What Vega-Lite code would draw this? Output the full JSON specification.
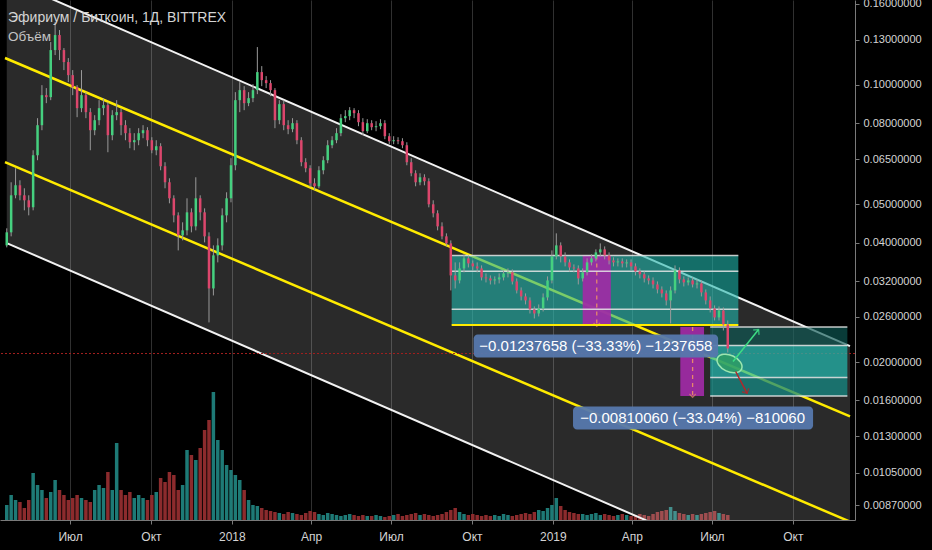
{
"$schema": "https://vega.github.io/schema/vega-lite/v6.json",
"width": 855, "height": 520,
"autosize": {"type": "none"},
"padding": {"left": 0, "top": 0, "right": 77, "bottom": 30},
"background": "#000000",
"config": {"view": {"stroke": null, "fill": "#000000"}, "font": "Liberation Sans"},
"title": {"text": "Эфириум / Биткоин, 1Д, BITTREX", "subtitle": "Объём", "anchor": "start", "frame": "group", "orient": "top", "offset": -46, "dx": 8, "color": "#d4d4d4", "subtitleColor": "#c4c4c4", "fontSize": 14, "subtitleFontSize": 13.5, "font": "Liberation Sans", "subtitleFont": "Liberation Sans", "fontWeight": "normal", "subtitlePadding": 5},
"datasets": {
"candles": [
{"d":"2017-04-20","o":0.03937,"h":0.04347,"l":0.03892,"c":0.04247,"v":15},
{"d":"2017-04-25","o":0.04247,"h":0.05680,"l":0.04149,"c":0.05266,"v":25},
{"d":"2017-04-30","o":0.05266,"h":0.06162,"l":0.05175,"c":0.05581,"v":20},
{"d":"2017-05-05","o":0.05581,"h":0.05746,"l":0.05115,"c":0.05266,"v":18},
{"d":"2017-05-10","o":0.05266,"h":0.05485,"l":0.04826,"c":0.05115,"v":12},
{"d":"2017-05-15","o":0.05115,"h":0.05266,"l":0.04687,"c":0.04911,"v":20},
{"d":"2017-05-20","o":0.04911,"h":0.06841,"l":0.04826,"c":0.06645,"v":47},
{"d":"2017-05-25","o":0.06645,"h":0.08241,"l":0.06455,"c":0.07912,"v":35},
{"d":"2017-05-30","o":0.07912,"h":0.09984,"l":0.07685,"c":0.09420,"v":30},
{"d":"2017-06-04","o":0.09420,"h":0.09812,"l":0.08992,"c":0.09312,"v":22},
{"d":"2017-06-09","o":0.09312,"h":0.12823,"l":0.09150,"c":0.12239,"v":28},
{"d":"2017-06-14","o":0.12239,"h":0.14404,"l":0.11888,"c":0.13354,"v":40},
{"d":"2017-06-19","o":0.13354,"h":0.13749,"l":0.11547,"c":0.12239,"v":30},
{"d":"2017-06-24","o":0.12239,"h":0.12383,"l":0.10895,"c":0.11414,"v":25},
{"d":"2017-06-29","o":0.11414,"h":0.11683,"l":0.10161,"c":0.10582,"v":20},
{"d":"2017-07-04","o":0.10582,"h":0.10895,"l":0.09420,"c":0.09869,"v":22},
{"d":"2017-07-09","o":0.09869,"h":0.09984,"l":0.08289,"c":0.08735,"v":25},
{"d":"2017-07-14","o":0.08735,"h":0.10895,"l":0.08534,"c":0.09420,"v":22},
{"d":"2017-07-19","o":0.09420,"h":0.09586,"l":0.08241,"c":0.08534,"v":20},
{"d":"2017-07-24","o":0.08534,"h":0.08735,"l":0.06841,"c":0.07685,"v":18},
{"d":"2017-07-29","o":0.07685,"h":0.08386,"l":0.07465,"c":0.08145,"v":30},
{"d":"2017-08-03","o":0.08145,"h":0.09150,"l":0.07912,"c":0.08735,"v":35},
{"d":"2017-08-08","o":0.08735,"h":0.09258,"l":0.08386,"c":0.08888,"v":32},
{"d":"2017-08-13","o":0.08888,"h":0.09045,"l":0.06762,"c":0.07465,"v":48},
{"d":"2017-08-18","o":0.07465,"h":0.08633,"l":0.07251,"c":0.08386,"v":30},
{"d":"2017-08-23","o":0.08386,"h":0.09150,"l":0.08145,"c":0.08534,"v":77},
{"d":"2017-08-28","o":0.08534,"h":0.08735,"l":0.07465,"c":0.07912,"v":30},
{"d":"2017-09-02","o":0.07912,"h":0.08145,"l":0.07251,"c":0.07553,"v":25},
{"d":"2017-09-07","o":0.07553,"h":0.07776,"l":0.06921,"c":0.07167,"v":28},
{"d":"2017-09-12","o":0.07167,"h":0.07553,"l":0.06841,"c":0.07251,"v":22},
{"d":"2017-09-17","o":0.07251,"h":0.07776,"l":0.07043,"c":0.07553,"v":25},
{"d":"2017-09-22","o":0.07553,"h":0.07912,"l":0.07336,"c":0.07685,"v":22},
{"d":"2017-09-27","o":0.07685,"h":0.07821,"l":0.07002,"c":0.07251,"v":20},
{"d":"2017-10-02","o":0.07251,"h":0.07379,"l":0.06723,"c":0.06841,"v":25},
{"d":"2017-10-07","o":0.06841,"h":0.07251,"l":0.06645,"c":0.07002,"v":28},
{"d":"2017-10-12","o":0.07002,"h":0.07126,"l":0.06090,"c":0.06234,"v":42},
{"d":"2017-10-17","o":0.06234,"h":0.06381,"l":0.05485,"c":0.05680,"v":38},
{"d":"2017-10-22","o":0.05680,"h":0.05813,"l":0.05027,"c":0.05175,"v":48},
{"d":"2017-10-27","o":0.05175,"h":0.05266,"l":0.04501,"c":0.04687,"v":45},
{"d":"2017-11-01","o":0.04687,"h":0.04770,"l":0.03824,"c":0.04173,"v":30},
{"d":"2017-11-06","o":0.04173,"h":0.04501,"l":0.04053,"c":0.04296,"v":35},
{"d":"2017-11-11","o":0.04296,"h":0.05175,"l":0.04173,"c":0.04770,"v":70},
{"d":"2017-11-16","o":0.04770,"h":0.04882,"l":0.04247,"c":0.04397,"v":65},
{"d":"2017-11-21","o":0.04397,"h":0.05847,"l":0.04296,"c":0.05175,"v":60},
{"d":"2017-11-26","o":0.05175,"h":0.05266,"l":0.04553,"c":0.04770,"v":72},
{"d":"2017-12-01","o":0.04770,"h":0.04882,"l":0.04006,"c":0.04149,"v":90},
{"d":"2017-12-06","o":0.04149,"h":0.04247,"l":0.02517,"c":0.03066,"v":100},
{"d":"2017-12-11","o":0.03066,"h":0.03937,"l":0.02944,"c":0.03715,"v":128},
{"d":"2017-12-16","o":0.03715,"h":0.04101,"l":0.03567,"c":0.03937,"v":80},
{"d":"2017-12-21","o":0.03937,"h":0.04882,"l":0.03824,"c":0.04687,"v":70},
{"d":"2017-12-26","o":0.04687,"h":0.05359,"l":0.04501,"c":0.05175,"v":55},
{"d":"2017-12-31","o":0.05175,"h":0.06531,"l":0.05056,"c":0.06270,"v":50},
{"d":"2018-01-05","o":0.06270,"h":0.09586,"l":0.06090,"c":0.09150,"v":45},
{"d":"2018-01-10","o":0.09150,"h":0.10161,"l":0.08534,"c":0.09698,"v":40},
{"d":"2018-01-15","o":0.09698,"h":0.09926,"l":0.08633,"c":0.08992,"v":30},
{"d":"2018-01-20","o":0.08992,"h":0.09586,"l":0.08837,"c":0.09258,"v":20},
{"d":"2018-01-25","o":0.09258,"h":0.10043,"l":0.09045,"c":0.09698,"v":15},
{"d":"2018-01-30","o":0.09698,"h":0.12455,"l":0.09476,"c":0.10769,"v":14},
{"d":"2018-02-04","o":0.10769,"h":0.11151,"l":0.09926,"c":0.10279,"v":12},
{"d":"2018-02-09","o":0.10279,"h":0.10521,"l":0.09812,"c":0.10102,"v":10},
{"d":"2018-02-14","o":0.10102,"h":0.10279,"l":0.09366,"c":0.09698,"v":9},
{"d":"2018-02-19","o":0.09698,"h":0.09812,"l":0.07776,"c":0.08145,"v":8},
{"d":"2018-02-24","o":0.08145,"h":0.09150,"l":0.07958,"c":0.08940,"v":7},
{"d":"2018-03-01","o":0.08940,"h":0.09150,"l":0.07685,"c":0.07912,"v":6},
{"d":"2018-03-06","o":0.07912,"h":0.08145,"l":0.07509,"c":0.07731,"v":8},
{"d":"2018-03-11","o":0.07731,"h":0.08241,"l":0.07597,"c":0.08005,"v":7},
{"d":"2018-03-16","o":0.08005,"h":0.08145,"l":0.07085,"c":0.07251,"v":6},
{"d":"2018-03-21","o":0.07251,"h":0.07379,"l":0.06234,"c":0.06381,"v":5},
{"d":"2018-03-26","o":0.06381,"h":0.06531,"l":0.06020,"c":0.06162,"v":7},
{"d":"2018-03-31","o":0.06162,"h":0.06270,"l":0.05517,"c":0.05647,"v":9},
{"d":"2018-04-05","o":0.05647,"h":0.05813,"l":0.05421,"c":0.05549,"v":8},
{"d":"2018-04-10","o":0.05549,"h":0.06234,"l":0.05485,"c":0.06090,"v":6},
{"d":"2018-04-15","o":0.06090,"h":0.06607,"l":0.05950,"c":0.06455,"v":5},
{"d":"2018-04-20","o":0.06455,"h":0.07251,"l":0.06344,"c":0.07043,"v":7},
{"d":"2018-04-25","o":0.07043,"h":0.07422,"l":0.06921,"c":0.07251,"v":6},
{"d":"2018-04-30","o":0.07251,"h":0.07776,"l":0.07126,"c":0.07553,"v":5},
{"d":"2018-05-05","o":0.07553,"h":0.08435,"l":0.07422,"c":0.08241,"v":4},
{"d":"2018-05-10","o":0.08241,"h":0.08633,"l":0.08051,"c":0.08338,"v":5},
{"d":"2018-05-15","o":0.08338,"h":0.08786,"l":0.08145,"c":0.08633,"v":6},
{"d":"2018-05-20","o":0.08633,"h":0.08735,"l":0.08241,"c":0.08484,"v":5},
{"d":"2018-05-25","o":0.08484,"h":0.08633,"l":0.07866,"c":0.08051,"v":4},
{"d":"2018-05-30","o":0.08051,"h":0.08241,"l":0.07465,"c":0.07641,"v":5},
{"d":"2018-06-04","o":0.07641,"h":0.08194,"l":0.07553,"c":0.08005,"v":4},
{"d":"2018-06-09","o":0.08005,"h":0.08145,"l":0.07685,"c":0.07821,"v":4},
{"d":"2018-06-14","o":0.07821,"h":0.08098,"l":0.07641,"c":0.07866,"v":5},
{"d":"2018-06-19","o":0.07866,"h":0.08194,"l":0.07731,"c":0.08005,"v":4},
{"d":"2018-06-24","o":0.08005,"h":0.08145,"l":0.07294,"c":0.07422,"v":3},
{"d":"2018-06-29","o":0.07422,"h":0.07553,"l":0.07085,"c":0.07209,"v":4},
{"d":"2018-07-04","o":0.07209,"h":0.07422,"l":0.07085,"c":0.07251,"v":5},
{"d":"2018-07-09","o":0.07251,"h":0.07379,"l":0.07085,"c":0.07209,"v":6},
{"d":"2018-07-14","o":0.07209,"h":0.07336,"l":0.06921,"c":0.07043,"v":4},
{"d":"2018-07-19","o":0.07043,"h":0.07167,"l":0.06270,"c":0.06381,"v":5},
{"d":"2018-07-24","o":0.06381,"h":0.06531,"l":0.05881,"c":0.05985,"v":6},
{"d":"2018-07-29","o":0.05985,"h":0.06090,"l":0.05549,"c":0.05680,"v":7},
{"d":"2018-08-03","o":0.05680,"h":0.05985,"l":0.05581,"c":0.05847,"v":5},
{"d":"2018-08-08","o":0.05847,"h":0.05950,"l":0.05581,"c":0.05713,"v":6},
{"d":"2018-08-13","o":0.05713,"h":0.05813,"l":0.04911,"c":0.04998,"v":5},
{"d":"2018-08-18","o":0.04998,"h":0.05115,"l":0.04633,"c":0.04743,"v":4},
{"d":"2018-08-23","o":0.04743,"h":0.04826,"l":0.04296,"c":0.04397,"v":5},
{"d":"2018-08-28","o":0.04397,"h":0.04501,"l":0.04077,"c":0.04149,"v":6},
{"d":"2018-09-02","o":0.04149,"h":0.04222,"l":0.03914,"c":0.03983,"v":8},
{"d":"2018-09-07","o":0.03983,"h":0.04053,"l":0.03031,"c":0.03307,"v":10},
{"d":"2018-09-12","o":0.03307,"h":0.03567,"l":0.03066,"c":0.03212,"v":12},
{"d":"2018-09-17","o":0.03212,"h":0.03567,"l":0.03157,"c":0.03444,"v":8},
{"d":"2018-09-22","o":0.03444,"h":0.03736,"l":0.03366,"c":0.03651,"v":6},
{"d":"2018-09-27","o":0.03651,"h":0.03715,"l":0.03464,"c":0.03546,"v":5},
{"d":"2018-10-02","o":0.03546,"h":0.03608,"l":0.03405,"c":0.03485,"v":6},
{"d":"2018-10-07","o":0.03485,"h":0.03567,"l":0.03366,"c":0.03444,"v":5},
{"d":"2018-10-12","o":0.03444,"h":0.03505,"l":0.03212,"c":0.03269,"v":4},
{"d":"2018-10-17","o":0.03269,"h":0.03346,"l":0.03175,"c":0.03250,"v":5},
{"d":"2018-10-22","o":0.03250,"h":0.03307,"l":0.03138,"c":0.03212,"v":4},
{"d":"2018-10-27","o":0.03212,"h":0.03288,"l":0.03138,"c":0.03231,"v":5},
{"d":"2018-11-01","o":0.03231,"h":0.03346,"l":0.03157,"c":0.03269,"v":4},
{"d":"2018-11-06","o":0.03269,"h":0.03405,"l":0.03212,"c":0.03346,"v":6},
{"d":"2018-11-11","o":0.03346,"h":0.03444,"l":0.03269,"c":0.03366,"v":5},
{"d":"2018-11-16","o":0.03366,"h":0.03425,"l":0.03138,"c":0.03193,"v":4},
{"d":"2018-11-21","o":0.03193,"h":0.03250,"l":0.02979,"c":0.03031,"v":5},
{"d":"2018-11-26","o":0.03031,"h":0.03084,"l":0.02860,"c":0.02927,"v":6},
{"d":"2018-12-01","o":0.02927,"h":0.02979,"l":0.02794,"c":0.02860,"v":7},
{"d":"2018-12-06","o":0.02860,"h":0.02910,"l":0.02651,"c":0.02714,"v":6},
{"d":"2018-12-11","o":0.02714,"h":0.02762,"l":0.02576,"c":0.02651,"v":8},
{"d":"2018-12-16","o":0.02651,"h":0.02794,"l":0.02606,"c":0.02730,"v":10},
{"d":"2018-12-21","o":0.02730,"h":0.02979,"l":0.02682,"c":0.02910,"v":9},
{"d":"2018-12-26","o":0.02910,"h":0.03288,"l":0.02860,"c":0.03212,"v":12},
{"d":"2018-12-31","o":0.03212,"h":0.03824,"l":0.03157,"c":0.03694,"v":15},
{"d":"2019-01-05","o":0.03694,"h":0.04222,"l":0.03630,"c":0.03937,"v":22},
{"d":"2019-01-10","o":0.03937,"h":0.04006,"l":0.03567,"c":0.03694,"v":14},
{"d":"2019-01-15","o":0.03694,"h":0.03780,"l":0.03485,"c":0.03567,"v":10},
{"d":"2019-01-20","o":0.03567,"h":0.03630,"l":0.03385,"c":0.03464,"v":8},
{"d":"2019-01-25","o":0.03464,"h":0.03525,"l":0.03366,"c":0.03444,"v":7},
{"d":"2019-01-30","o":0.03444,"h":0.03505,"l":0.03138,"c":0.03250,"v":6},
{"d":"2019-02-04","o":0.03250,"h":0.03444,"l":0.03193,"c":0.03366,"v":6},
{"d":"2019-02-09","o":0.03366,"h":0.03651,"l":0.03307,"c":0.03567,"v":5},
{"d":"2019-02-14","o":0.03567,"h":0.03736,"l":0.03505,"c":0.03651,"v":6},
{"d":"2019-02-19","o":0.03651,"h":0.03847,"l":0.03587,"c":0.03780,"v":7},
{"d":"2019-02-24","o":0.03780,"h":0.03983,"l":0.03694,"c":0.03847,"v":5},
{"d":"2019-03-01","o":0.03847,"h":0.03914,"l":0.03630,"c":0.03715,"v":6},
{"d":"2019-03-06","o":0.03715,"h":0.03780,"l":0.03525,"c":0.03608,"v":5},
{"d":"2019-03-11","o":0.03608,"h":0.03672,"l":0.03485,"c":0.03567,"v":4},
{"d":"2019-03-16","o":0.03567,"h":0.03651,"l":0.03485,"c":0.03587,"v":5},
{"d":"2019-03-21","o":0.03587,"h":0.03651,"l":0.03464,"c":0.03546,"v":6},
{"d":"2019-03-26","o":0.03546,"h":0.03630,"l":0.03464,"c":0.03567,"v":5},
{"d":"2019-03-31","o":0.03567,"h":0.03630,"l":0.03405,"c":0.03485,"v":4},
{"d":"2019-04-05","o":0.03485,"h":0.03546,"l":0.03307,"c":0.03385,"v":5},
{"d":"2019-04-10","o":0.03385,"h":0.03444,"l":0.03250,"c":0.03327,"v":6},
{"d":"2019-04-15","o":0.03327,"h":0.03385,"l":0.03175,"c":0.03250,"v":5},
{"d":"2019-04-20","o":0.03250,"h":0.03307,"l":0.03138,"c":0.03212,"v":4},
{"d":"2019-04-25","o":0.03212,"h":0.03269,"l":0.03066,"c":0.03138,"v":6},
{"d":"2019-04-30","o":0.03138,"h":0.03193,"l":0.02979,"c":0.03048,"v":8},
{"d":"2019-05-05","o":0.03048,"h":0.03102,"l":0.02910,"c":0.02979,"v":9},
{"d":"2019-05-10","o":0.02979,"h":0.03031,"l":0.02778,"c":0.02860,"v":10},
{"d":"2019-05-15","o":0.02860,"h":0.03102,"l":0.02502,"c":0.03031,"v":13},
{"d":"2019-05-20","o":0.03031,"h":0.03505,"l":0.02979,"c":0.03405,"v":9},
{"d":"2019-05-25","o":0.03405,"h":0.03464,"l":0.03157,"c":0.03231,"v":7},
{"d":"2019-05-30","o":0.03231,"h":0.03288,"l":0.03102,"c":0.03175,"v":6},
{"d":"2019-06-04","o":0.03175,"h":0.03269,"l":0.03120,"c":0.03212,"v":5},
{"d":"2019-06-09","o":0.03212,"h":0.03269,"l":0.03084,"c":0.03138,"v":6},
{"d":"2019-06-14","o":0.03138,"h":0.03231,"l":0.03066,"c":0.03157,"v":5},
{"d":"2019-06-19","o":0.03157,"h":0.03212,"l":0.02927,"c":0.02996,"v":6},
{"d":"2019-06-24","o":0.02996,"h":0.03048,"l":0.02794,"c":0.02860,"v":7},
{"d":"2019-06-29","o":0.02860,"h":0.02927,"l":0.02667,"c":0.02730,"v":8},
{"d":"2019-07-04","o":0.02730,"h":0.02778,"l":0.02546,"c":0.02591,"v":9},
{"d":"2019-07-09","o":0.02591,"h":0.02762,"l":0.02546,"c":0.02698,"v":7},
{"d":"2019-07-14","o":0.02698,"h":0.02746,"l":0.02402,"c":0.02488,"v":6},
{"d":"2019-07-19","o":0.02488,"h":0.02546,"l":0.02113,"c":0.02164,"v":5}
],
"channel": [
{"d":"2017-04-20","top":0.1845,"bot":0.0399},
{"d":"2019-12-05","top":0.02194,"bot":0.00477}
],
"yellow": [
{"d":"2017-04-18","a":0.1169,"b":0.06383},
{"d":"2019-12-05","a":0.01458,"b":0.007913}
],
"zones": [
{"x1":"2018-09-08","x2":"2019-07-31","p1":0.03713,"p2":0.02475,"band":"A"},
{"x1":"2019-06-29","x2":"2019-12-02","p1":0.02452,"p2":0.02202,"band":"B1"},
{"x1":"2019-06-29","x2":"2019-12-02","p1":0.02202,"p2":0.01828,"band":"B2"},
{"x1":"2019-06-29","x2":"2019-12-02","p1":0.01828,"p2":0.01642,"band":"B3"}
],
"levels": [
{"x1":"2018-09-08","x2":"2019-07-31","p":0.03713},
{"x1":"2018-09-08","x2":"2019-07-31","p":0.03386},
{"x1":"2018-09-08","x2":"2019-07-31","p":0.02715},
{"x1":"2019-06-29","x2":"2019-12-02","p":0.02452},
{"x1":"2019-06-29","x2":"2019-12-02","p":0.02202},
{"x1":"2019-06-29","x2":"2019-12-02","p":0.01828},
{"x1":"2019-06-29","x2":"2019-12-02","p":0.01642}
],
"hline": [{"x1":"2018-09-08","x2":"2019-07-31","p":0.02480}],
"purple": [
{"x1":"2019-02-04","x2":"2019-03-08","p1":0.03713,"p2":0.02480,"xm":"2019-02-20"},
{"x1":"2019-05-26","x2":"2019-06-22","p1":0.02452,"p2":0.01642,"xm":"2019-06-09"}
],
"labels": [
{"x1":"2018-10-03","x2":"2019-07-08","p1":0.02347,"p2":0.02054,"xm":"2019-02-19","pm":0.02195,"t":"−0.01237658 (−33.33%) −1237658"},
{"x1":"2019-01-24","x2":"2019-10-24","p1":0.01545,"p2":0.01351,"xm":"2019-06-09","pm":0.01445,"t":"−0.00810060 (−33.04%) −810060"}
],
"ellipse": [{"d":"2019-07-21","p":0.01983}],
"garrow": [{"d":"2019-07-25","p":0.02006,"tip":false},{"d":"2019-08-23","p":0.02416,"tip":true}],
"rarrow": [{"d":"2019-07-28","p":0.01893,"tip":false},{"d":"2019-08-10","p":0.01667,"tip":true}],
"last": [{"p":0.02101}]
},
"layer": [
{
"data": {"name": "candles"},
"mark": {"type": "bar", "width": 3.5},
"encoding": {
"x": {"field": "d", "type": "temporal",
 "scale": {"type": "utc", "domain": [{"year": 2017, "month": 4, "date": 18, "utc": true}, {"year": 2019, "month": 12, "date": 5, "utc": true}]},
 "axis": {"title": null, "values": [{"year":2017,"month":7,"date":1,"utc":true},{"year":2017,"month":10,"date":1,"utc":true},{"year":2018,"month":1,"date":1,"utc":true},{"year":2018,"month":4,"date":1,"utc":true},{"year":2018,"month":7,"date":1,"utc":true},{"year":2018,"month":10,"date":1,"utc":true},{"year":2019,"month":1,"date":1,"utc":true},{"year":2019,"month":4,"date":1,"utc":true},{"year":2019,"month":7,"date":1,"utc":true},{"year":2019,"month":10,"date":1,"utc":true}],
  "labelExpr": "utcmonth(datum.value) == 0 ? utcFormat(datum.value, '%Y') : utcmonth(datum.value) == 3 ? 'Апр' : utcmonth(datum.value) == 6 ? 'Июл' : 'Окт'",
  "grid": true, "gridColor": "#303030", "domainColor": "#7a7a7a", "tickColor": "#7a7a7a", "tickSize": 4, "labelColor": "#d4d4d4", "labelFontSize": 12, "labelFont": "Liberation Sans", "labelPadding": 7, "labelFlush": false, "labelOverlap": false}},
"y": {"field": "v", "type": "quantitative", "scale": {"domain": [0, 520], "nice": false}, "axis": null},
"color": {"condition": {"test": "datum.c >= datum.o", "value": "#1e7a76"}, "value": "#8c2b2d"}
}
},
{
"layer": [
{
"data": {"name": "channel"},
"mark": {"type": "area", "color": "#ffffff", "opacity": 0.165, "clip": true},
"encoding": {
"x": {"field": "d", "type": "temporal"},
"y": {"field": "top", "type": "quantitative",
 "scale": {"type": "log", "domain": [0.00799, 0.1637], "nice": false},
 "axis": {"orient": "right", "title": null, "values": [0.16, 0.13, 0.1, 0.08, 0.065, 0.05, 0.04, 0.032, 0.026, 0.02, 0.016, 0.013, 0.0105, 0.0087], "format": ".8f", "labelColor": "#d4d4d4", "labelFontSize": 11, "labelFont": "Liberation Sans", "tickColor": "#7a7a7a", "tickSize": 4, "domainColor": "#7a7a7a", "gridColor": "#303030", "labelPadding": 4, "labelOverlap": false, "labelFlush": false}},
"y2": {"field": "bot"}
}
},
{
"data": {"name": "channel"},
"mark": {"type": "line", "color": "#f2f2f2", "strokeWidth": 2, "clip": true},
"encoding": {"x": {"field": "d", "type": "temporal"}, "y": {"field": "top", "type": "quantitative"}}
},
{
"data": {"name": "channel"},
"mark": {"type": "line", "color": "#f2f2f2", "strokeWidth": 2, "clip": true},
"encoding": {"x": {"field": "d", "type": "temporal"}, "y": {"field": "bot", "type": "quantitative"}}
},
{
"data": {"name": "yellow"},
"mark": {"type": "line", "color": "#ffeb00", "strokeWidth": 2.5, "clip": true},
"encoding": {"x": {"field": "d", "type": "temporal"}, "y": {"field": "a", "type": "quantitative"}}
},
{
"data": {"name": "yellow"},
"mark": {"type": "line", "color": "#ffeb00", "strokeWidth": 2.5, "clip": true},
"encoding": {"x": {"field": "d", "type": "temporal"}, "y": {"field": "b", "type": "quantitative"}}
},
{
"data": {"name": "last"},
"mark": {"type": "rule", "color": "#a3201f", "strokeWidth": 1, "strokeDash": [2, 2]},
"encoding": {"y": {"field": "p", "type": "quantitative"}}
},
{
"data": {"name": "zones"},
"mark": {"type": "rect"},
"encoding": {
"x": {"field": "x1", "type": "temporal"}, "x2": {"field": "x2"},
"y": {"field": "p1", "type": "quantitative"}, "y2": {"field": "p2"},
"color": {"field": "band", "type": "nominal", "legend": null, "scale": {"domain": ["A", "B1", "B2", "B3"], "range": ["#22b8ae", "#0e5a56", "#22bdb3", "#168a84"]}},
"opacity": {"field": "band", "type": "nominal", "legend": null, "scale": {"domain": ["A", "B1", "B2", "B3"], "range": [0.6, 0.75, 0.7, 0.7]}}
}
},
{
"data": {"name": "purple"},
"mark": {"type": "rect", "color": "#a12aa6", "opacity": 0.92},
"encoding": {"x": {"field": "x1", "type": "temporal"}, "x2": {"field": "x2"}, "y": {"field": "p1", "type": "quantitative"}, "y2": {"field": "p2"}}
},
{
"data": {"name": "purple"},
"mark": {"type": "rule", "color": "#e5876c", "strokeWidth": 1.3, "strokeDash": [4, 4]},
"encoding": {"x": {"field": "xm", "type": "temporal"}, "y": {"field": "p1", "type": "quantitative"}, "y2": {"field": "p2"}}
},
{
"data": {"name": "purple"},
"mark": {"type": "point", "shape": "M-1,-0.6L0,0.4L1,-0.6", "filled": false, "color": "#e5876c", "strokeWidth": 1.3, "size": 40},
"encoding": {"x": {"field": "xm", "type": "temporal"}, "y": {"field": "p2", "type": "quantitative"}}
},
{
"data": {"name": "levels"},
"mark": {"type": "rule", "color": "#e6e6e6", "strokeWidth": 1.5, "opacity": 0.85},
"encoding": {"x": {"field": "x1", "type": "temporal"}, "x2": {"field": "x2"}, "y": {"field": "p", "type": "quantitative"}}
},
{
"data": {"name": "hline"},
"mark": {"type": "rule", "color": "#ffeb00", "strokeWidth": 2},
"encoding": {"x": {"field": "x1", "type": "temporal"}, "x2": {"field": "x2"}, "y": {"field": "p", "type": "quantitative"}}
},
{
"data": {"name": "candles"},
"mark": {"type": "rule", "strokeWidth": 1, "color": "#9a9a9a"},
"encoding": {
"x": {"field": "d", "type": "temporal"},
"y": {"field": "l", "type": "quantitative"}, "y2": {"field": "h"}
}
},
{
"data": {"name": "candles"},
"mark": {"type": "bar", "width": 2.5},
"encoding": {
"x": {"field": "d", "type": "temporal"},
"y": {"field": "o", "type": "quantitative"}, "y2": {"field": "c"},
"color": {"condition": {"test": "datum.c >= datum.o", "value": "#45d07f"}, "value": "#dc466c"}
}
},
{
"data": {"name": "ellipse"},
"mark": {"type": "point", "shape": "M-1,0A1,0.62,0,1,0,1,0A1,0.62,0,1,0,-1,0Z", "size": 700, "angle": 25, "filled": true, "fill": "#2f9e5f", "fillOpacity": 0.75, "stroke": "#9be6b0", "strokeWidth": 1.5},
"encoding": {"x": {"field": "d", "type": "temporal"}, "y": {"field": "p", "type": "quantitative"}}
},
{
"data": {"name": "garrow"},
"mark": {"type": "line", "color": "#3ddc84", "strokeWidth": 1.5},
"encoding": {"x": {"field": "d", "type": "temporal"}, "y": {"field": "p", "type": "quantitative"}}
},
{
"data": {"name": "garrow"},
"transform": [{"filter": "datum.tip"}],
"mark": {"type": "point", "shape": "M-0.7,0.7L0,0L0.7,0.7", "filled": false, "color": "#3ddc84", "strokeWidth": 1.5, "size": 120, "angle": 40},
"encoding": {"x": {"field": "d", "type": "temporal"}, "y": {"field": "p", "type": "quantitative"}}
},
{
"data": {"name": "rarrow"},
"mark": {"type": "line", "color": "#b3262a", "strokeWidth": 1.5},
"encoding": {"x": {"field": "d", "type": "temporal"}, "y": {"field": "p", "type": "quantitative"}}
},
{
"data": {"name": "rarrow"},
"transform": [{"filter": "datum.tip"}],
"mark": {"type": "point", "shape": "M-0.7,0.7L0,0L0.7,0.7", "filled": false, "color": "#b3262a", "strokeWidth": 1.5, "size": 120, "angle": 153},
"encoding": {"x": {"field": "d", "type": "temporal"}, "y": {"field": "p", "type": "quantitative"}}
},
{
"data": {"name": "labels"},
"mark": {"type": "rect", "color": "#5678ad", "opacity": 0.95, "cornerRadius": 4},
"encoding": {"x": {"field": "x1", "type": "temporal"}, "x2": {"field": "x2"}, "y": {"field": "p1", "type": "quantitative"}, "y2": {"field": "p2"}}
},
{
"data": {"name": "labels"},
"mark": {"type": "text", "color": "#ffffff", "fontSize": 15, "font": "Liberation Sans", "align": "center", "baseline": "middle"},
"encoding": {"x": {"field": "xm", "type": "temporal"}, "y": {"field": "pm", "type": "quantitative"}, "text": {"field": "t"}}
}
]
}
],
"resolve": {"scale": {"y": "independent"}}
}
